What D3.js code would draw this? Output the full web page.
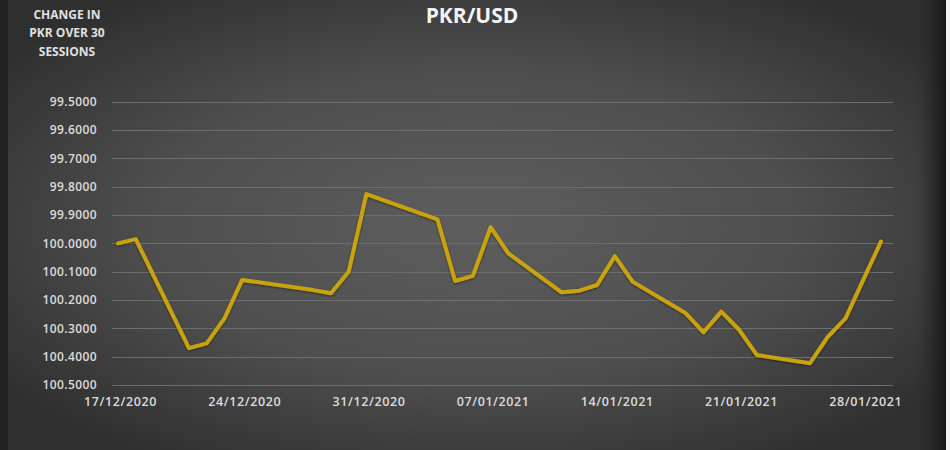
<!DOCTYPE html>
<html>
<head>
<meta charset="utf-8">
<script src="https://cdn.jsdelivr.net/npm/d3@7/dist/d3.min.js"></script>
<style>
  html, body { margin: 0; padding: 0; background: #fff; }
  svg { display: block; }
</style>
</head>
<body>
<svg id="chart" width="950" height="450"></svg>
<script>
// ---- data ----
const title = "PKR/USD";
const axisNote = ["CHANGE IN", "PKR OVER 30", "SESSIONS"];
const dates = ["17/12/2020","18/12/2020","21/12/2020","22/12/2020","23/12/2020","24/12/2020",
  "28/12/2020","29/12/2020","30/12/2020","31/12/2020",
  "04/01/2021","05/01/2021","06/01/2021","07/01/2021","08/01/2021",
  "11/01/2021","12/01/2021","13/01/2021","14/01/2021","15/01/2021",
  "18/01/2021","19/01/2021","20/01/2021","21/01/2021","22/01/2021",
  "25/01/2021","26/01/2021","27/01/2021","28/01/2021","29/01/2021"];
const values = [100.000, 99.985, 100.370, 100.353, 100.265, 100.129,
  100.165, 100.176, 100.100, 99.826,
  99.915, 100.133, 100.115, 99.943, 100.035,
  100.173, 100.167, 100.147, 100.045, 100.135,
  100.247, 100.314, 100.241, 100.305, 100.394,
  100.423, 100.330, 100.265, 100.129, 99.994];
const yTicks = [99.5, 99.6, 99.7, 99.8, 99.9, 100.0, 100.1, 100.2, 100.3, 100.4, 100.5];
const xTickLabels = ["17/12/2020","24/12/2020","31/12/2020","07/01/2021","14/01/2021","21/01/2021","28/01/2021"];

// ---- drawing ----
const parse = d3.utcParse("%d/%m/%Y");
const data = dates.map((d, i) => ({ date: parse(d), value: values[i] }));

const svg = d3.select("#chart");
const W = 950, H = 450;
const defs = svg.append("defs");
const rg = defs.append("radialGradient").attr("id", "bg")
  .attr("cx", "50%").attr("cy", "50%").attr("r", "62%");
rg.append("stop").attr("offset", "0%").attr("stop-color", "#5e5e5e");
rg.append("stop").attr("offset", "55%").attr("stop-color", "#4e4e4e");
rg.append("stop").attr("offset", "100%").attr("stop-color", "#2f2f2f");

const sh = defs.append("filter").attr("id", "shadow")
  .attr("x", "-5%").attr("y", "-5%").attr("width", "110%").attr("height", "120%");
sh.append("feDropShadow").attr("dx", 0).attr("dy", 1).attr("stdDeviation", 1)
  .attr("flood-color", "#000").attr("flood-opacity", 0.5);

svg.append("rect").attr("width", W).attr("height", H).attr("fill", "url(#bg)");
// dark edges
svg.append("rect").attr("x", 0).attr("y", 0).attr("width", 8).attr("height", H).attr("fill", "#222");
const eg = defs.append("linearGradient").attr("id", "redge").attr("x1", "0").attr("x2", "1");
eg.append("stop").attr("offset", "0%").attr("stop-color", "#2f2f2f").attr("stop-opacity", 0);
eg.append("stop").attr("offset", "100%").attr("stop-color", "#151515").attr("stop-opacity", 1);
svg.append("rect").attr("x", 915).attr("y", 0).attr("width", 31).attr("height", H).attr("fill", "url(#redge)");
svg.append("rect").attr("x", 946).attr("y", 0).attr("width", 4).attr("height", H).attr("fill", "#f2f2f2");

const x = d3.scaleUtc()
  .domain([parse("17/12/2020"), parse("29/01/2021")])
  .range([118, 881]);
const y = d3.scaleLinear().domain([99.5, 100.5]).range([101.7, 385]);
const plotLeft = 112, plotRight = 893;

// gridlines
svg.append("g").selectAll("line").data(yTicks).join("line")
  .attr("x1", plotLeft).attr("x2", plotRight)
  .attr("y1", d => Math.round(y(d)) + 0.5).attr("y2", d => Math.round(y(d)) + 0.5)
  .attr("stroke", "#6e6e6e").attr("stroke-width", 1);

// y axis labels
const yAxis = d3.axisLeft(y).tickValues(yTicks).tickFormat(d3.format(".4f")).tickSize(0).tickPadding(0);
const gy = svg.append("g").attr("transform", "translate(97,0)").call(yAxis);
gy.select(".domain").remove();
gy.selectAll("text").attr("fill", "#dcdcdc").attr("font-family", "'Open Sans', sans-serif")
  .attr("font-size", "12px").attr("font-weight", 600).attr("letter-spacing", "0.4px");

// x axis labels
const xAxis = d3.axisBottom(x).tickValues(xTickLabels.map(parse))
  .tickFormat(d3.utcFormat("%d/%m/%Y")).tickSize(0).tickPadding(0);
const gx = svg.append("g").attr("transform", "translate(2,397)").call(xAxis);
gx.select(".domain").remove();
gx.selectAll("text").attr("fill", "#dcdcdc").attr("font-family", "'Open Sans', sans-serif")
  .attr("font-size", "12.5px").attr("font-weight", 600).attr("letter-spacing", "0.6px");

// line
const line = d3.line().x(d => x(d.date)).y(d => y(d.value));
svg.append("path").datum(data).attr("d", line)
  .attr("fill", "none").attr("stroke", "#c9a30e").attr("stroke-width", 4)
  .attr("stroke-linejoin", "round").attr("stroke-linecap", "round")
  .attr("filter", "url(#shadow)");

// title
svg.append("text").attr("x", 472).attr("y", 23).attr("text-anchor", "middle")
  .attr("fill", "#f4f4f4").attr("font-family", "'Open Sans', sans-serif")
  .attr("font-size", "21px").attr("font-weight", 700).text(title);

// axis note
svg.append("g").selectAll("text").data(axisNote).join("text")
  .attr("x", 67).attr("y", (d, i) => 18.5 + i * 18.5).attr("text-anchor", "middle")
  .attr("fill", "#e0e0e0").attr("font-family", "'Open Sans', sans-serif")
  .attr("font-size", "12px").attr("font-weight", 700).text(d => d);
</script>
</body>
</html>
